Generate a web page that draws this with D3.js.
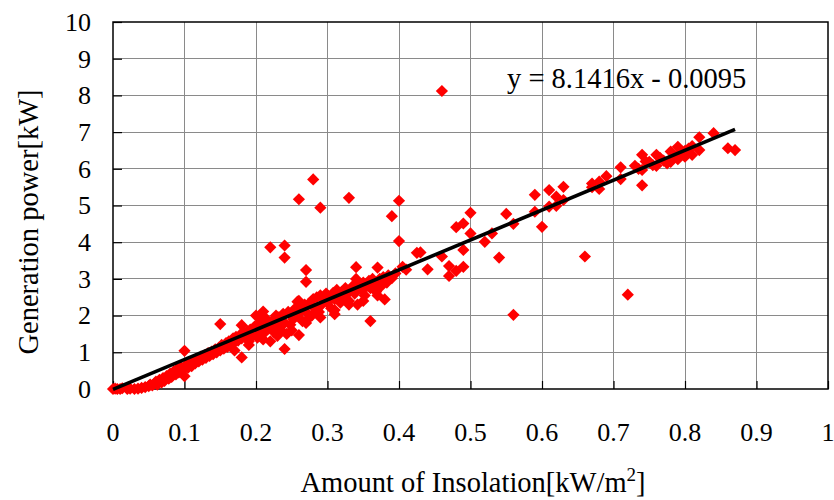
<!DOCTYPE html>
<html>
<head>
<meta charset="utf-8">
<script src="https://cdn.jsdelivr.net/npm/d3@7"></script>
<style>
  html, body { margin: 0; padding: 0; background: #fff; }
  svg { display: block; font-family: "Liberation Serif", "Times New Roman", serif; }
</style>
</head>
<body>
<svg id="chart" width="834" height="500"></svg>
<script>
// Measured insolation [kW/m2] vs generated power [kW]
const insolation = [
  0, 0.003, 0.006, 0.01, 0.013, 0.02, 0.024, 0.03, 0.035, 0.04, 0.045, 0.05, 0.052, 0.055, 0.058,
  0.06, 0.062, 0.065, 0.068, 0.07, 0.072, 0.075, 0.078, 0.08, 0.082, 0.085, 0.088, 0.09, 0.092, 0.095,
  0.098, 0.1, 0.1, 0.102, 0.105, 0.108, 0.11, 0.113, 0.115, 0.118, 0.12, 0.123, 0.125, 0.128, 0.13,
  0.133, 0.135, 0.138, 0.14, 0.143, 0.145, 0.148, 0.15, 0.15, 0.152, 0.155, 0.158, 0.16, 0.162, 0.165,
  0.168, 0.17, 0.172, 0.175, 0.178, 0.18, 0.18, 0.18, 0.183, 0.185, 0.188, 0.19, 0.192, 0.195, 0.198,
  0.2, 0.2, 0.202, 0.205, 0.208, 0.21, 0.21, 0.213, 0.215, 0.218, 0.22, 0.22, 0.222, 0.225, 0.228,
  0.23, 0.232, 0.235, 0.238, 0.24, 0.24, 0.24, 0.24, 0.243, 0.245, 0.248, 0.25, 0.252, 0.255, 0.258,
  0.26, 0.26, 0.26, 0.262, 0.265, 0.268, 0.27, 0.27, 0.27, 0.272, 0.275, 0.278, 0.28, 0.28, 0.282,
  0.285, 0.288, 0.29, 0.29, 0.292, 0.295, 0.298, 0.3, 0.302, 0.305, 0.308, 0.31, 0.31, 0.313, 0.315,
  0.318, 0.32, 0.322, 0.325, 0.328, 0.33, 0.33, 0.332, 0.335, 0.338, 0.34, 0.34, 0.342, 0.345, 0.348,
  0.35, 0.352, 0.355, 0.358, 0.36, 0.36, 0.363, 0.365, 0.368, 0.37, 0.37, 0.373, 0.375, 0.378, 0.38,
  0.383, 0.385, 0.39, 0.39, 0.395, 0.4, 0.4, 0.405, 0.41, 0.425, 0.43, 0.44, 0.46, 0.46, 0.47,
  0.47, 0.48, 0.49, 0.49, 0.48, 0.49, 0.5, 0.5, 0.52, 0.53, 0.54, 0.55, 0.56, 0.56, 0.59,
  0.59, 0.6, 0.61, 0.61, 0.62, 0.62, 0.63, 0.63, 0.66, 0.67, 0.67, 0.68, 0.68, 0.69, 0.71,
  0.71, 0.72, 0.73, 0.735, 0.74, 0.74, 0.74, 0.745, 0.75, 0.755, 0.76, 0.76, 0.765, 0.77, 0.775,
  0.78, 0.78, 0.785, 0.79, 0.79, 0.795, 0.8, 0.8, 0.805, 0.81, 0.81, 0.82, 0.82, 0.84, 0.86,
  0.87,
  0.17, 0.19, 0.21, 0.23, 0.25, 0.27, 0.29, 0.31, 0.33, 0.35, 0.37, 0.21, 0.26, 0.3, 0.34
];
const power = [
  0, 0.01, 0, 0, 0.02, 0, 0.01, 0, 0.01, 0.03, 0.05, 0.08, 0.12, 0.1, 0.15,
  0.2, 0.12, 0.25, 0.18, 0.3, 0.22, 0.35, 0.28, 0.42, 0.33, 0.48, 0.4, 0.55, 0.45, 0.6,
  0.52, 0.35, 1.04, 0.65, 0.58, 0.72, 0.62, 0.78, 0.7, 0.82, 0.75, 0.88, 0.8, 0.92, 0.85,
  0.98, 0.9, 1.02, 0.95, 1.08, 1.0, 1.12, 1.05, 1.77, 1.2, 1.1, 1.25, 1.15, 1.3, 1.2,
  1.38, 1.28, 1.42, 1.32, 1.48, 0.86, 1.74, 1.38, 1.52, 1.42, 1.58, 1.3, 1.62, 1.45, 1.7,
  1.55, 2.0, 1.4, 1.8, 1.6, 2.11, 1.5, 1.75, 1.9, 1.65, 3.86, 1.3, 1.85, 1.55, 2.0,
  1.7, 1.95, 1.6, 2.05, 3.91, 3.58, 1.09, 1.8, 1.5, 2.1, 1.75, 2.0, 1.9, 2.2, 2.38,
  1.47, 5.17, 2.05, 2.25, 1.85, 2.3, 3.24, 2.92, 2.1, 1.9, 2.35, 2.0, 5.71, 2.45, 2.2,
  2.5, 2.1, 4.94, 2.55, 2.3, 2.45, 2.6, 2.35, 2.5, 2.2, 2.62, 2.04, 2.45, 2.7, 2.5,
  2.35, 2.65, 2.55, 2.75, 2.6, 5.21, 2.4, 2.7, 2.8, 2.6, 3.32, 2.75, 2.3, 2.85, 2.7,
  2.9, 2.55, 2.8, 2.95, 1.85, 2.75, 3.0, 2.85, 2.65, 3.31, 2.9, 3.0, 2.8, 3.05, 2.44,
  2.9, 3.1, 3.02, 4.71, 3.15, 5.13, 4.03, 3.33, 3.25, 3.71, 3.72, 3.26, 8.12, 3.61, 3.35,
  3.08, 3.22, 3.33, 3.79, 4.41, 4.51, 4.8, 4.24, 4.01, 4.24, 3.58, 4.77, 4.5, 2.02, 5.29,
  4.83, 4.42, 5.42, 4.97, 5.24, 4.99, 5.51, 5.15, 3.61, 5.6, 5.5, 5.45, 5.65, 5.8, 6.04,
  5.72, 2.57, 6.08, 6.0, 5.55, 6.38, 5.97, 6.2, 6.19, 6.1, 6.38, 6.08, 6.3, 6.22, 6.15,
  6.47, 6.19, 6.35, 6.6, 6.26, 6.45, 6.49, 6.33, 6.55, 6.62, 6.38, 6.86, 6.51, 6.97, 6.56,
  6.51,
  1.05, 1.2, 1.35, 1.45, 1.6, 1.8, 1.95, 2.15, 2.3, 2.4, 2.55, 1.95, 2.4, 2.55, 3.0
];

// Linear trend fitted to the measurements
const slope = 8.1416;
const intercept = -0.0095;

const xTicks = [0, 0.1, 0.2, 0.3, 0.4, 0.5, 0.6, 0.7, 0.8, 0.9, 1];
const yTicks = [0, 1, 2, 3, 4, 5, 6, 7, 8, 9, 10];

const svg = d3.select("#chart");
const plot = { left: 113, right: 828, top: 22, bottom: 389 };

const x = d3.scaleLinear().domain([0, 1]).range([plot.left, plot.right]);
const y = d3.scaleLinear().domain([0, 10]).range([plot.bottom, plot.top]);

// Grid
const grid = svg.append("g");
grid.selectAll("line.gx").data(xTicks.slice(1, -1)).join("line")
  .attr("x1", d => x(d)).attr("x2", d => x(d))
  .attr("y1", plot.top).attr("y2", plot.bottom)
  .attr("stroke", "#8a8a8a").attr("stroke-width", 1).attr("shape-rendering", "crispEdges");
grid.selectAll("line.gy").data(yTicks.slice(1, -1)).join("line")
  .attr("x1", plot.left).attr("x2", plot.right)
  .attr("y1", d => y(d)).attr("y2", d => y(d))
  .attr("stroke", "#8a8a8a").attr("stroke-width", 1).attr("shape-rendering", "crispEdges");

// Axes with inward ticks
const yAxis = svg.append("g")
  .attr("transform", `translate(${plot.left},0)`)
  .call(d3.axisRight(y).tickValues(yTicks).tickSize(9).tickFormat(""));
const xAxis = svg.append("g")
  .attr("transform", `translate(0,${plot.bottom})`)
  .call(d3.axisTop(x).tickValues(xTicks).tickSize(8).tickFormat(""));
[yAxis, xAxis].forEach(g => {
  g.select(".domain").remove();
  g.selectAll(".tick line").attr("stroke", "#000").attr("stroke-width", 1.2);
});

// Plot frame
svg.append("rect")
  .attr("x", plot.left).attr("y", plot.top)
  .attr("width", plot.right - plot.left).attr("height", plot.bottom - plot.top)
  .attr("fill", "none").attr("stroke", "#000").attr("stroke-width", 1.5);

// Tick labels
svg.append("g").selectAll("text").data(yTicks).join("text")
  .attr("x", 91).attr("y", d => y(d)).attr("dy", "0.34em")
  .attr("text-anchor", "end").attr("font-size", 26)
  .text(d => d);
svg.append("g").selectAll("text").data(xTicks).join("text")
  .attr("x", d => x(d)).attr("y", 441)
  .attr("text-anchor", "middle").attr("font-size", 26)
  .text(d => d);

// Points: red diamonds
const pts = d3.zip(insolation, power);
const diamond = d3.symbol().type(d3.symbolDiamond2).size(95);
svg.append("g").selectAll("path").data(pts).join("path")
  .attr("d", diamond)
  .attr("transform", d => `translate(${x(d[0])},${y(d[1])})`)
  .attr("fill", "#ff0000");

// Trend line over the data range
const xMin = d3.min(insolation), xMax = d3.max(insolation);
svg.append("line")
  .attr("x1", x(xMin)).attr("y1", y(slope * xMin + intercept))
  .attr("x2", x(xMax)).attr("y2", y(slope * xMax + intercept))
  .attr("stroke", "#000").attr("stroke-width", 3.6);

// Equation label
svg.append("text")
  .attr("x", 507).attr("y", 88)
  .attr("font-size", 28.5)
  .text(`y = ${slope}x - ${Math.abs(intercept).toFixed(4)}`);

// Axis titles
const xt = svg.append("text")
  .attr("x", 473).attr("y", 492)
  .attr("text-anchor", "middle").attr("font-size", 28.5);
xt.append("tspan").text("Amount of Insolation[kW/m");
xt.append("tspan").attr("dy", -11).attr("font-size", 19).text("2");
xt.append("tspan").attr("dy", 11).text("]");

svg.append("text")
  .attr("transform", "translate(38,222) rotate(-90)")
  .attr("text-anchor", "middle").attr("font-size", 28.5)
  .text("Generation power[kW]");
</script>
</body>
</html>
